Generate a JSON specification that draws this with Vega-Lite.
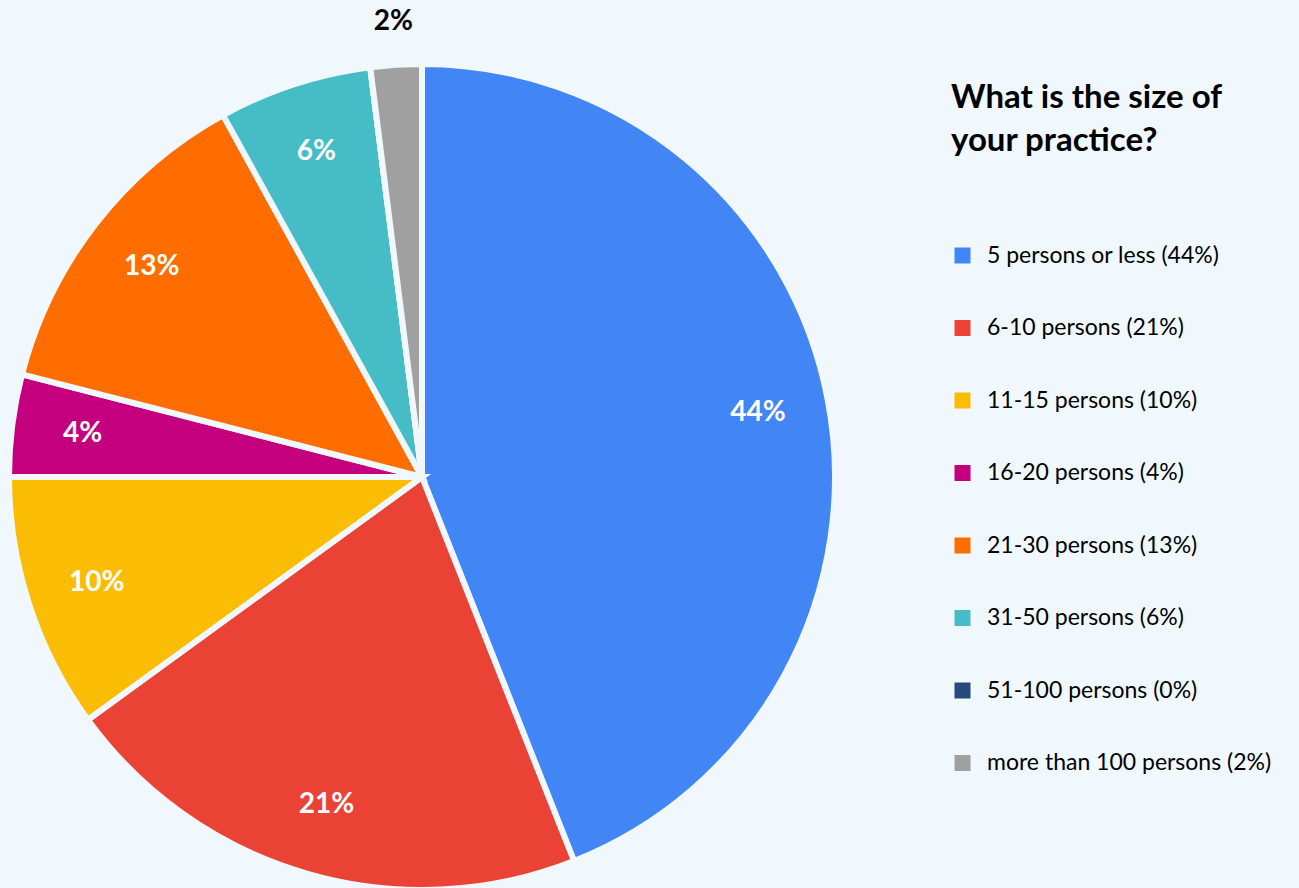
{
  "$schema": "https://vega.github.io/schema/vega-lite/v6.json",
  "width": 844,
  "height": 822,
  "padding": {"left": 0, "top": 66, "right": 455, "bottom": 0},
  "autosize": {"type": "none"},
  "background": "#F0F8FE",
  "config": {"view": {"stroke": null}, "font": "Lato"},
  "data": {
    "values": [
      {"idx": 1, "category": "5 persons or less (44%)", "share": 0.44},
      {"idx": 2, "category": "6-10 persons (21%)", "share": 0.21},
      {"idx": 3, "category": "11-15 persons (10%)", "share": 0.10},
      {"idx": 4, "category": "16-20 persons (4%)", "share": 0.04},
      {"idx": 5, "category": "21-30 persons (13%)", "share": 0.13},
      {"idx": 6, "category": "31-50 persons (6%)", "share": 0.06},
      {"idx": 7, "category": "51-100 persons (0%)", "share": 0.0},
      {"idx": 8, "category": "more than 100 persons (2%)", "share": 0.02}
    ]
  },
  "encoding": {
    "theta": {"field": "share", "type": "quantitative", "stack": true},
    "order": {"field": "idx", "type": "quantitative"}
  },
  "layer": [
    {
      "mark": {"type": "arc", "outerRadius": 413, "stroke": "#F0F8FE", "strokeWidth": 6},
      "encoding": {
        "color": {
          "field": "category",
          "type": "nominal",
          "sort": null,
          "scale": {
            "domain": ["5 persons or less (44%)", "6-10 persons (21%)", "11-15 persons (10%)", "16-20 persons (4%)", "21-30 persons (13%)", "31-50 persons (6%)", "51-100 persons (0%)", "more than 100 persons (2%)"],
            "range": ["#4285F4", "#EA4335", "#FBBC04", "#C5007F", "#FF6D01", "#46BDC6", "#274A7C", "#A0A0A0"]
          },
          "legend": {
            "title": ["What is the size of", "your practice?"],
            "orient": "right",
            "offset": 91,
            "padding": 16,
            "titleFont": "Lato",
            "titleFontSize": 33,
            "titleFontWeight": "bold",
            "titleColor": "#000000",
            "titleLineHeight": 43,
            "titleLimit": 400,
            "titlePadding": 86,
            "labelFont": "Lato",
            "labelFontSize": 23,
            "labelColor": "#000000",
            "labelLimit": 400,
            "labelOffset": 13,
            "symbolType": "square",
            "symbolSize": 256,
            "symbolStrokeWidth": 0,
            "rowPadding": 48.5
          }
        }
      }
    },
    {
      "mark": {"type": "text", "radius": 342, "color": "#FFFFFF", "fontSize": 28, "fontWeight": "bold", "font": "Lato"},
      "encoding": {
        "text": {
          "condition": {"test": "datum.share < 0.03", "value": ""},
          "field": "share", "type": "quantitative", "format": ".0%"
        }
      }
    },
    {
      "mark": {"type": "text", "radius": 456, "color": "#000000", "fontSize": 28, "fontWeight": "bold", "font": "Lato"},
      "encoding": {
        "text": {
          "condition": {"test": "datum.share >= 0.03 || datum.share == 0", "value": ""},
          "field": "share", "type": "quantitative", "format": ".0%"
        }
      }
    }
  ]
}
